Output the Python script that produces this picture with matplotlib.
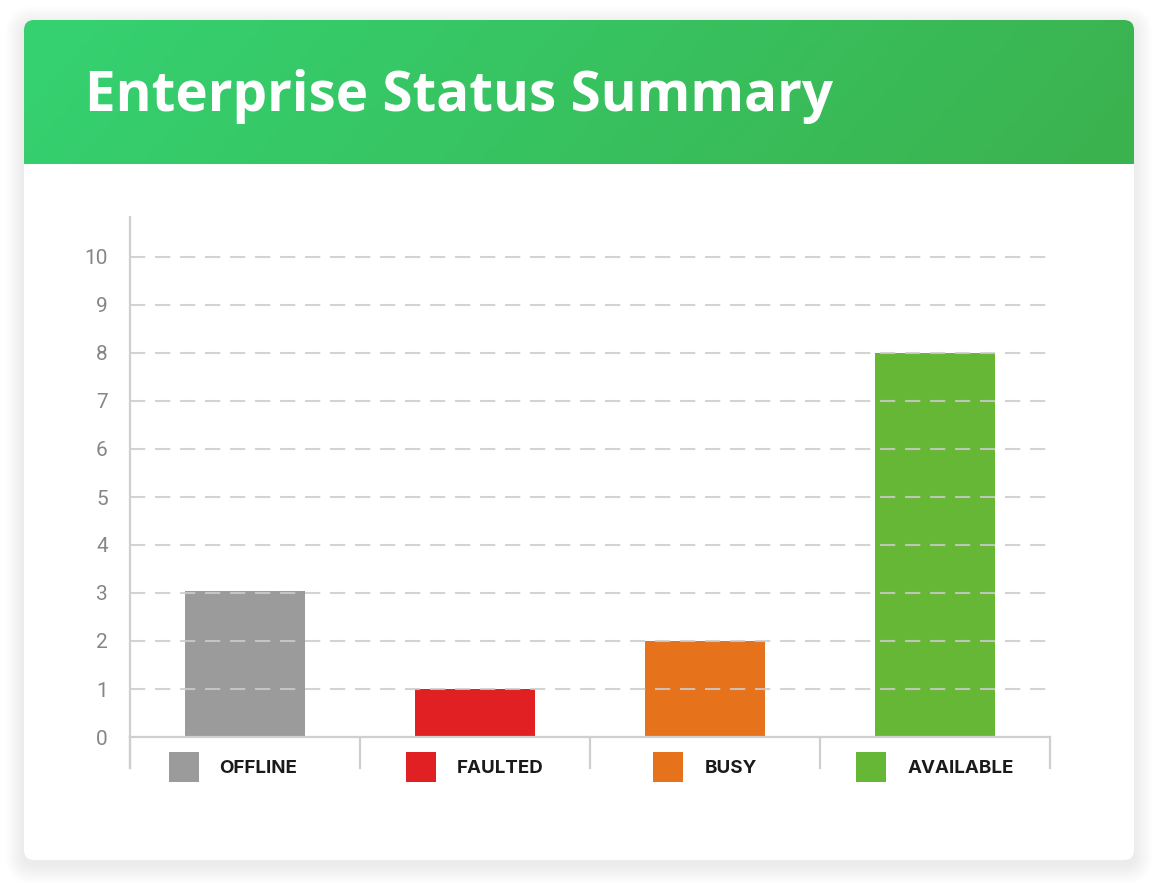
import numpy as np
import matplotlib
matplotlib.use("Agg")
import matplotlib.pyplot as plt
from matplotlib.patches import FancyBboxPatch, Rectangle
from matplotlib.colors import LinearSegmentedColormap

plt.rcParams["lines.scale_dashes"] = False

# data
categories = ["OFFLINE", "FAULTED", "BUSY", "AVAILABLE"]
counts = [3.05, 1, 2, 8]
bar_colors = ["#9b9b9b", "#e02022", "#e6721c", "#67b736"]
y_ticks = list(range(0, 11))
title = "Enterprise Status Summary"

W, H = 1158, 888
fig = plt.figure(figsize=(W / 100, H / 100), dpi=100)
fig.patch.set_facecolor("white")

# pixel-space background layer for the card
bg = fig.add_axes([0, 0, 1, 1])
bg.set_xlim(0, W)
bg.set_ylim(H, 0)
bg.axis("off")

# soft shadow
for s in range(1, 20):
    bg.add_patch(FancyBboxPatch((24 - s, 20 - s + 5), 1110 + 2 * s, 840 + 2 * s,
                                boxstyle="round,pad=0,rounding_size=%d" % (10 + s),
                                fc="black", ec="none", alpha=0.0025, zorder=0))

card = FancyBboxPatch((24, 20), 1110, 840, boxstyle="round,pad=0,rounding_size=10",
                      fc="white", ec="none", zorder=1)
bg.add_patch(card)

# header with gradient
clip = FancyBboxPatch((24, 20), 1110, 170, boxstyle="round,pad=0,rounding_size=10",
                      fc="none", ec="none", transform=bg.transData)
bg.add_patch(clip)
cmap = LinearSegmentedColormap.from_list("hdr", ["#35d272", "#3bb24e"])
gx = np.linspace(0, 1, 400)
gy = np.linspace(0, 0.1, 40)
grad = gx[None, :] * 0.9 + gy[:, None]
img = bg.imshow(grad, cmap=cmap, extent=(24, 1134, 164, 20), aspect="auto",
                zorder=2, vmin=0, vmax=1.0)
img.set_clip_path(clip)

bg.text(85, 111, title, color="white", fontsize=39.4, fontweight="bold",
        family="Open Sans", va="baseline", ha="left", zorder=3)

# chart axes: x from 130 to 1050 px, y=0 at 737 px, y=10 at 257 px
ax = fig.add_axes([130 / W, (H - 737) / H, 920 / W, 520 / H])
ax.set_facecolor("none")
x = np.arange(len(categories))
ax.bar(x, counts, width=0.52, color=bar_colors, zorder=1)
ax.set_xlim(-0.5, len(categories) - 0.5)
ax.set_ylim(0, 10 + 40 / 48)
ax.set_yticks(y_ticks)
ax.set_xticks([])
for v in y_ticks[1:]:
    ax.plot([-0.5, len(categories) - 0.48], [v, v], color="#cccccc", alpha=0.85,
            lw=1.5, ls=(0, (11, 7)), zorder=3, clip_on=False)
ax.tick_params(axis="y", length=0, pad=16, labelsize=15, labelcolor="#868686")
for lab in ax.get_yticklabels():
    lab.set_family("Roboto")
for sp in ["top", "right", "left"]:
    ax.spines[sp].set_visible(False)
ax.spines["bottom"].set_color("#cfcfcf")
ax.spines["bottom"].set_linewidth(1.6)

# y axis line and category separators (pixel space)
bg.plot([130, 130], [217, 768], color="#cfcfcf", lw=1.6, zorder=3)
for k in range(len(categories) + 1):
    bg.plot([130 + 230 * k, 130 + 230 * k], [737, 768], color="#cfcfcf", lw=1.6, zorder=3)

# category keys, centred under each category
fig.canvas.draw()
rend = fig.canvas.get_renderer()
for k, (name, col) in enumerate(zip(categories, bar_colors)):
    xc = 130 + 230 * k + 115
    t = bg.text(0, 768, name, color="#1a1a1a", fontsize=13.5, fontweight="bold",
                family=["Inter", "Roboto"], va="center", ha="left", zorder=3)
    tw = t.get_window_extent(rend).width
    x0 = xc - (30 + 21 + tw) / 2
    if k == 0:
        x0 -= 12
    t.set_x(x0 + 51)
    bg.add_patch(Rectangle((x0, 752), 30, 30, fc=col, ec="none", zorder=3))

fig.savefig("out.png", dpi=100, facecolor=fig.get_facecolor())
